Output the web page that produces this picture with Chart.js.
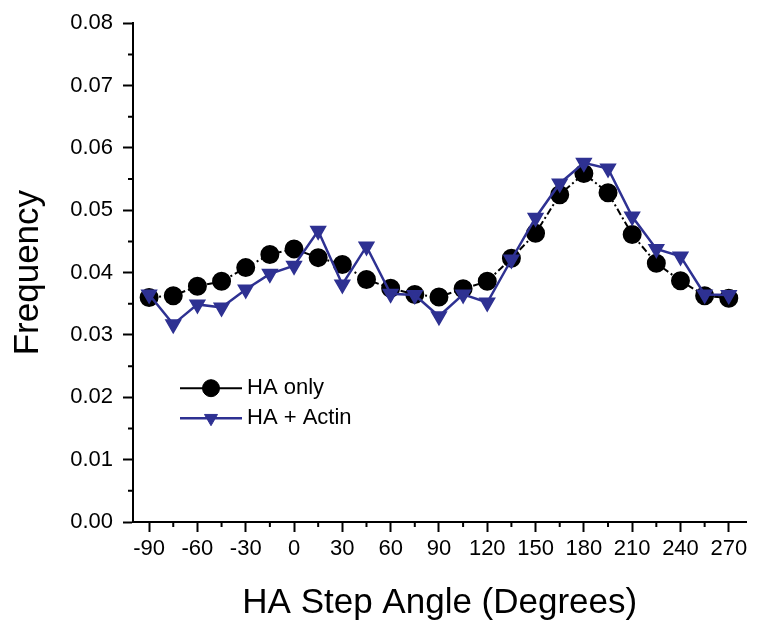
<!DOCTYPE html>
<html>
<head>
<meta charset="utf-8">
<title>HA Step Angle</title>
<script src="https://cdn.jsdelivr.net/npm/chart.js@4.4.1/dist/chart.umd.min.js"></script>
<style>
    html, body { margin: 0; padding: 0; background: #fff; }
    #wrap { width: 757px; height: 621px; }
</style>
</head>
<body>
<div id="wrap"><canvas id="stepChart" width="757" height="621"></canvas></div>
<script>
// Step angles (degrees)
const angles = [-90, -75, -60, -45, -30, -15, 0, 15, 30, 45, 60, 75, 90, 105, 120, 135, 150, 165, 180, 195, 210, 225, 240, 255, 270];

// Frequencies
const haOnly = [0.0360, 0.0363, 0.0378, 0.0386, 0.0408, 0.0429, 0.0438, 0.0424, 0.0413, 0.0389, 0.0375, 0.0365, 0.0361,
    0.0374, 0.0386, 0.0423, 0.0463, 0.0525, 0.0559, 0.0528, 0.0461, 0.0415, 0.0387, 0.0363, 0.0359];
const haActin = [0.0365, 0.0317, 0.0349, 0.0344, 0.0373, 0.0398, 0.0411, 0.0467, 0.0381, 0.0442, 0.0366, 0.0364, 0.0330,
    0.0365, 0.0352, 0.0421, 0.0488, 0.0543, 0.0576, 0.0567, 0.0490, 0.0438, 0.0426, 0.0365, 0.0364];

const seriesNames = ['HA only', 'HA + Actin'];

// Axis ticks
const xMajorStep = 30;
const xMinorStep = 15;
const yMajorStep = 0.01;
const yMinorStep = 0.005;

const FONT = '"Liberation Sans", Arial, Helvetica, sans-serif';
const BLUE = '#2e3192';

const isMajor = (v, step) => Math.abs(v / step - Math.round(v / step)) < 1e-6;

// Short minor tick marks + the line/marker legend
const extrasPlugin = {
    id: 'extras',
    afterDraw(chart) {
        const ctx = chart.ctx;
        const xs = chart.scales.x;
        const ys = chart.scales.y;
        ctx.save();
        ctx.strokeStyle = '#000';
        ctx.lineWidth = 2;
        ctx.beginPath();
        xs.ticks.forEach(t => {
            if (!isMajor(t.value, xMajorStep)) {
                const px = xs.getPixelForValue(t.value);
                ctx.moveTo(px, xs.top);
                ctx.lineTo(px, xs.top + 5);
            }
        });
        ys.ticks.forEach(t => {
            if (!isMajor(t.value, yMajorStep)) {
                const py = ys.getPixelForValue(t.value);
                ctx.moveTo(ys.right, py);
                ctx.lineTo(ys.right - 5, py);
            }
        });
        ctx.stroke();

        // legend
        const lx = chart.chartArea.left + 47;
        const ly = chart.chartArea.top + 365;
        chart.data.datasets.forEach((ds, i) => {
            const y = ly + i * 30;
            ctx.strokeStyle = ds.borderColor;
            ctx.lineWidth = ds.borderWidth;
            ctx.setLineDash([]);
            ctx.beginPath();
            ctx.moveTo(lx, y);
            ctx.lineTo(lx + 62, y);
            ctx.stroke();
            ctx.fillStyle = ds.pointBackgroundColor;
            ctx.strokeStyle = ds.pointBorderColor;
            ctx.lineWidth = 1;
            Chart.helpers.drawPoint(ctx, {
                pointStyle: ds.pointStyle,
                rotation: ds.pointRotation,
                radius: ds.pointRadius,
                borderWidth: 1
            }, lx + 31, y);
            ctx.fillStyle = '#000';
            ctx.font = '22px ' + FONT;
            ctx.textBaseline = 'middle';
            ctx.textAlign = 'left';
            ctx.fillText(ds.label, lx + 67, y);
        });
        ctx.restore();
    }
};

const ctx = document.getElementById('stepChart').getContext('2d');
new Chart(ctx, {
    type: 'line',
    data: {
        datasets: [
            {
                label: seriesNames[0],
                data: angles.map((a, i) => ({ x: a, y: haOnly[i] })),
                borderColor: '#000',
                borderWidth: 2,
                borderDash: [7, 3, 2, 3],
                pointStyle: 'circle',
                pointRadius: 8.5,
                pointBackgroundColor: '#000',
                pointBorderColor: '#000',
                pointRotation: 0,
                order: 1
            },
            {
                label: seriesNames[1],
                data: angles.map((a, i) => ({ x: a, y: haActin[i] })),
                borderColor: BLUE,
                borderWidth: 2.5,
                pointStyle: 'triangle',
                pointRotation: 180,
                pointRadius: 7.5,
                pointBackgroundColor: BLUE,
                pointBorderColor: BLUE,
                order: 0
            }
        ]
    },
    options: {
        responsive: false,
        animation: false,
        layout: { padding: { top: 22, right: 0, bottom: 0, left: 0 } },
        plugins: {
            legend: { display: false },
            tooltip: { enabled: false }
        },
        scales: {
            x: {
                type: 'linear',
                min: -100,
                max: 281,
                afterFit(scale) { scale.height = 99; },
                ticks: {
                    stepSize: xMinorStep,
                    includeBounds: false,
                    autoSkip: false,
                    maxRotation: 0,
                    padding: 4,
                    color: '#000',
                    font: { family: FONT, size: 22 },
                    callback: v => isMajor(v, xMajorStep) ? String(v) : ''
                },
                grid: {
                    drawOnChartArea: false,
                    tickLength: 10,
                    tickWidth: 2,
                    tickColor: c => isMajor(c.tick.value, xMajorStep) ? '#000' : 'rgba(0,0,0,0)'
                },
                border: { color: '#000', width: 2 },
                title: {
                    display: true,
                    text: 'HA Step Angle (Degrees)',
                    color: '#000',
                    font: { family: FONT, size: 35, lineHeight: 1.0 },
                    padding: { top: 0, bottom: 0 }
                }
            },
            y: {
                min: 0,
                max: 0.08,
                afterFit(scale) { scale.width = 133; },
                ticks: {
                    stepSize: yMinorStep,
                    autoSkip: false,
                    padding: 10,
                    color: '#000',
                    font: { family: FONT, size: 22 },
                    callback: v => isMajor(v, yMajorStep) ? v.toFixed(2) : ''
                },
                grid: {
                    drawOnChartArea: false,
                    tickLength: 10,
                    tickWidth: 2,
                    tickColor: c => isMajor(c.tick.value, yMajorStep) ? '#000' : 'rgba(0,0,0,0)'
                },
                border: { color: '#000', width: 2 },
                title: {
                    display: true,
                    text: 'Frequency',
                    color: '#000',
                    font: { family: FONT, size: 35, lineHeight: 1.2 },
                    padding: { top: 7, bottom: 0 }
                }
            }
        }
    },
    plugins: [extrasPlugin]
});
</script>
</body>
</html>
